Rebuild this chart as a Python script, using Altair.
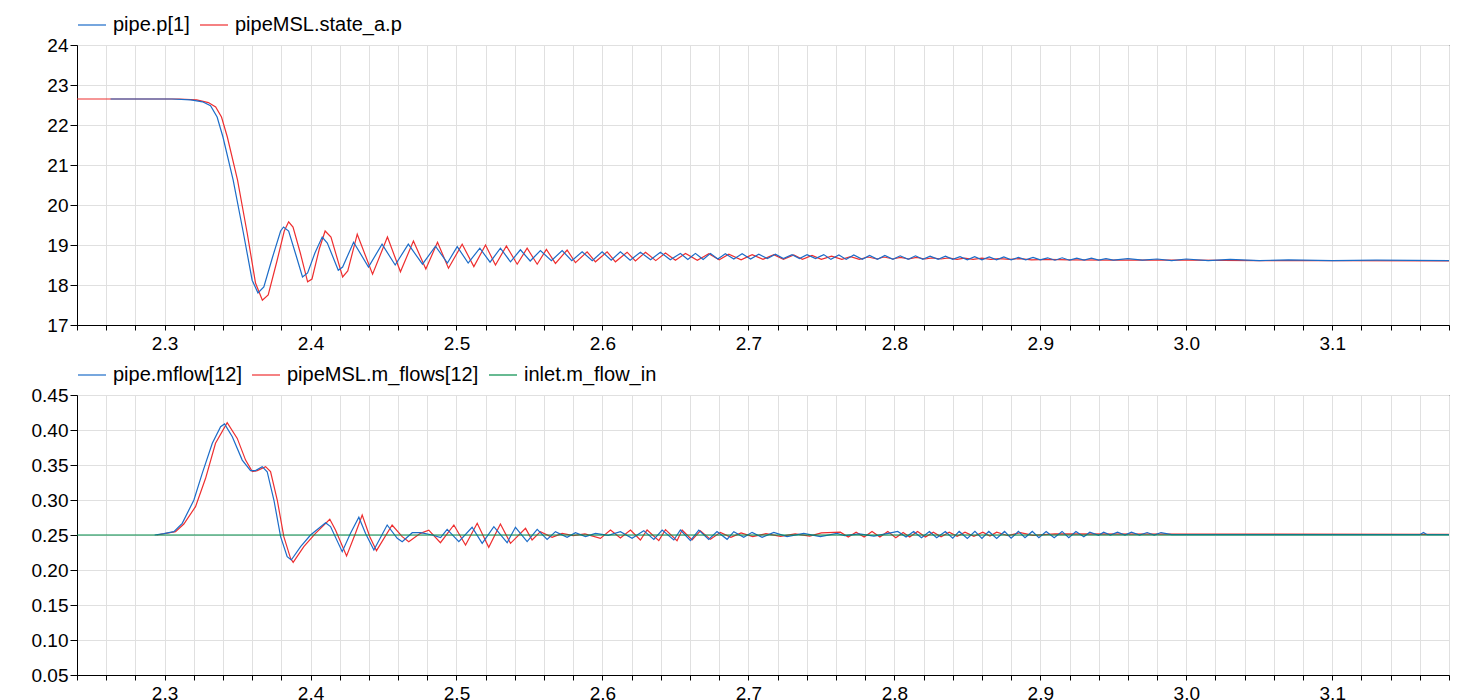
import altair as alt
import pandas as pd

# ---------------- top panel: pressure ----------------
TOP_NAMES = ["pipe.p[1]", "pipeMSL.state_a.p"]

P_BLUE_T = [2.263, 2.305, 2.318, 2.326, 2.3315, 2.336, 2.340, 2.347, 2.354, 2.360, 2.364, 2.368,
            2.374, 2.3795, 2.3815, 2.385, 2.390, 2.3945, 2.398, 2.403, 2.408, 2.4115, 2.419, 2.422,
            2.4295, 2.4397, 2.449, 2.458, 2.467, 2.4767, 2.4856, 2.4938, 2.5005, 2.508, 2.516, 2.523,
            2.5301, 2.537, 2.5438, 2.5505, 2.5575, 2.565, 2.5724, 2.579, 2.5861, 2.593, 2.5998, 2.606,
            2.6123, 2.619, 2.626, 2.633, 2.6397, 2.6465, 2.6534, 2.6585, 2.6637, 2.669, 2.674, 2.679,
            2.6842, 2.690, 2.6957, 2.7015, 2.7071, 2.713, 2.7185, 2.724, 2.7299, 2.735, 2.7402, 2.746,
            2.7516, 2.7565, 2.762, 2.767, 2.7722, 2.778, 2.783, 2.7885, 2.7935, 2.799, 2.804, 2.8095,
            2.8145, 2.8195, 2.8245, 2.830, 2.835, 2.840, 2.845, 2.850, 2.855, 2.860, 2.865, 2.870,
            2.875, 2.880, 2.885, 2.890, 2.895, 2.900, 2.905, 2.910, 2.915, 2.920, 2.925, 2.930,
            2.935, 2.940, 2.945, 2.950, 2.960, 2.970, 2.980, 2.990, 3.000, 3.015, 3.030, 3.050,
            3.070, 3.100, 3.130, 3.180]
P_BLUE_V = [22.65, 22.65, 22.63, 22.58, 22.48, 22.2, 21.7, 20.62, 19.3, 18.12, 17.8, 17.95,
            18.7, 19.35, 19.45, 19.35, 18.75, 18.2, 18.3, 18.8, 19.2, 19.05, 18.37, 18.45,
            19.07, 18.45, 19.02, 18.5, 19.02, 18.52, 18.97, 18.55, 18.96, 18.55, 18.92, 18.57,
            18.92, 18.58, 18.88, 18.6, 18.86, 18.61, 18.86, 18.61, 18.83, 18.61, 18.83, 18.62,
            18.83, 18.62, 18.82, 18.63, 18.82, 18.63, 18.79, 18.64, 18.79, 18.64, 18.79, 18.65,
            18.78, 18.65, 18.78, 18.65, 18.77, 18.66, 18.77, 18.66, 18.76, 18.66, 18.76, 18.66,
            18.76, 18.64, 18.75, 18.64, 18.75, 18.64, 18.74, 18.64, 18.74, 18.64, 18.73, 18.64,
            18.73, 18.64, 18.72, 18.64, 18.72, 18.64, 18.71, 18.63, 18.71, 18.63, 18.70, 18.63,
            18.70, 18.63, 18.69, 18.63, 18.69, 18.63, 18.68, 18.62, 18.68, 18.62, 18.67, 18.62,
            18.67, 18.62, 18.66, 18.62, 18.66, 18.62, 18.65, 18.61, 18.65, 18.61, 18.64, 18.61,
            18.63, 18.61, 18.62, 18.61]

P_RED_T = [2.240, 2.310, 2.322, 2.330, 2.335, 2.339, 2.343, 2.350, 2.3566, 2.3623, 2.367, 2.371,
           2.377, 2.382, 2.385, 2.388, 2.393, 2.398, 2.401, 2.406, 2.410, 2.414, 2.422, 2.4255,
           2.432, 2.4425, 2.4527, 2.4616, 2.4705, 2.479, 2.487, 2.4945, 2.5039, 2.5119, 2.5199, 2.5267,
           2.5342, 2.5416, 2.5484, 2.5553, 2.5616, 2.5678, 2.5758, 2.5815, 2.5895, 2.5952, 2.6032, 2.6089,
           2.6169, 2.6226, 2.6295, 2.6365, 2.6432, 2.650, 2.6569, 2.665, 2.6729, 2.680, 2.6866, 2.695,
           2.7026, 2.710, 2.7174, 2.724, 2.7311, 2.737, 2.7436, 2.750, 2.757, 2.764, 2.770, 2.776,
           2.782, 2.788, 2.793, 2.799, 2.804, 2.810, 2.815, 2.821, 2.826, 2.832, 2.837, 2.843,
           2.848, 2.854, 2.860, 2.866, 2.872, 2.879, 2.886, 2.894, 2.905, 2.920, 2.950, 3.000,
           3.050, 3.100, 3.180]
P_RED_V = [22.65, 22.65, 22.63, 22.56, 22.45, 22.2, 21.7, 20.62, 19.3, 18.05, 17.62, 17.75,
           18.6, 19.35, 19.58, 19.45, 18.8, 18.08, 18.15, 18.9, 19.35, 19.2, 18.2, 18.35,
           19.27, 18.27, 19.2, 18.33, 19.1, 18.4, 19.07, 18.42, 19.02, 18.46, 19.0, 18.5,
           18.975, 18.52, 18.92, 18.52, 18.89, 18.54, 18.875, 18.56, 18.83, 18.58, 18.83, 18.58,
           18.82, 18.6, 18.82, 18.61, 18.80, 18.62, 18.79, 18.62, 18.78, 18.63, 18.77, 18.63,
           18.76, 18.64, 18.76, 18.64, 18.75, 18.64, 18.74, 18.64, 18.72, 18.64, 18.71, 18.64,
           18.70, 18.65, 18.70, 18.65, 18.69, 18.65, 18.69, 18.65, 18.68, 18.65, 18.68, 18.64,
           18.67, 18.64, 18.67, 18.64, 18.66, 18.64, 18.66, 18.63, 18.64, 18.63, 18.62, 18.62,
           18.61, 18.61, 18.60]

# ---------------- bottom panel: mass flow ----------------
BOT_NAMES = ["pipe.mflow[12]", "pipeMSL.m_flows[12]", "inlet.m_flow_in"]

M_BLUE_T = [2.2932, 2.2995, 2.3064, 2.3121, 2.3201, 2.3258, 2.3327, 2.3384, 2.3411, 2.3464, 2.3532,
            2.3589, 2.3623, 2.3669, 2.3703, 2.3749, 2.3795, 2.3840, 2.3868, 2.3932, 2.4000, 2.4103,
            2.4137, 2.4217, 2.4274, 2.4331, 2.4377, 2.4434, 2.4525, 2.4594, 2.4628, 2.4697, 2.4754,
            2.4834, 2.4891, 2.4936, 2.5016, 2.5107, 2.5176, 2.5256, 2.5347, 2.5404, 2.5484, 2.5553,
            2.5621, 2.5678, 2.5758, 2.5815, 2.5884, 2.5952, 2.6040, 2.6123, 2.6203, 2.6283, 2.6352,
            2.6409, 2.6489, 2.6534, 2.6603, 2.6660, 2.6728, 2.6785, 2.6854, 2.6900, 2.6968, 2.7025,
            2.7094, 2.7174, 2.7265, 2.7379, 2.7493, 2.7607, 2.7660, 2.7760, 2.7860, 2.7950, 2.8023,
            2.8080, 2.8132, 2.8186, 2.8240, 2.8290, 2.8349, 2.8400, 2.8444, 2.8500, 2.8552, 2.8600,
            2.8647, 2.8701, 2.8755, 2.8800, 2.8850, 2.8895, 2.8945, 2.8990, 2.9040, 2.9095, 2.9149,
            2.9195, 2.9244, 2.9298, 2.9339, 2.9400, 2.9434, 2.9480, 2.9529, 2.9580, 2.9624, 2.9680,
            2.9732, 2.9780, 2.9827, 2.9900, 3.1600, 3.1625, 3.1650, 3.1800]
M_BLUE_V = [0.250, 0.252, 0.2548, 0.2667, 0.300, 0.338, 0.381, 0.4047, 0.4086, 0.3904, 0.357,
            0.3419, 0.342, 0.3476, 0.3404, 0.300, 0.2476, 0.219, 0.2143, 0.2333, 0.250, 0.2676,
            0.262, 0.2262, 0.2524, 0.2753, 0.252, 0.2286, 0.2643, 0.2452, 0.2405, 0.2533, 0.2533,
            0.250, 0.2462, 0.2581, 0.2405, 0.261, 0.2381, 0.2619, 0.239, 0.261, 0.2405, 0.2581,
            0.2438, 0.2548, 0.2467, 0.2533, 0.2476, 0.2524, 0.2495, 0.2548, 0.2452, 0.2562, 0.2438,
            0.2571, 0.2429, 0.2571, 0.2419, 0.2571, 0.2438, 0.2548, 0.2438, 0.2548, 0.2467, 0.2538,
            0.2467, 0.2538, 0.2476, 0.2524, 0.2476, 0.2524, 0.2490, 0.2515, 0.2485, 0.2520, 0.2551,
            0.2470, 0.2551, 0.2460, 0.2551, 0.2460, 0.2551, 0.2455, 0.2551, 0.2452, 0.2551, 0.2452,
            0.2551, 0.2452, 0.2551, 0.2455, 0.2551, 0.2460, 0.2551, 0.2460, 0.2551, 0.2460, 0.2551,
            0.2462, 0.2551, 0.2475, 0.2540, 0.2495, 0.2540, 0.2500, 0.2540, 0.2500, 0.2540, 0.2500,
            0.2535, 0.2500, 0.2535, 0.2505, 0.2505, 0.2535, 0.2505, 0.2505]

M_RED_T = [2.2946, 2.3075, 2.3132, 2.3212, 2.3281, 2.3349, 2.3429, 2.3498, 2.3555, 2.3601, 2.3635,
           2.3692, 2.3726, 2.3772, 2.3817, 2.3863, 2.3881, 2.3954, 2.4034, 2.4132, 2.4171, 2.4247,
           2.4308, 2.4354, 2.4406, 2.4452, 2.4559, 2.4628, 2.4673, 2.4753, 2.4810, 2.4890, 2.4982,
           2.5062, 2.5142, 2.5221, 2.5301, 2.5370, 2.5473, 2.5518, 2.5575, 2.5655, 2.5724, 2.5800,
           2.5880, 2.5986, 2.6055, 2.6123, 2.6192, 2.6260, 2.6306, 2.6386, 2.6432, 2.6511, 2.6546,
           2.6614, 2.6671, 2.6740, 2.6808, 2.6880, 2.6950, 2.7030, 2.7120, 2.7220, 2.7320, 2.7420,
           2.7500, 2.7630, 2.7684, 2.7738, 2.7793, 2.7847, 2.7901, 2.7955, 2.8010, 2.8060, 2.8105,
           2.8159, 2.8213, 2.8267, 2.8320, 2.8376, 2.8430, 2.8484, 2.8545, 2.8606, 2.8655, 2.8701,
           2.8780, 2.8864, 2.8950, 2.9100, 3.0000, 3.1800]
M_RED_V = [0.250, 0.2548, 0.2657, 0.2905, 0.331, 0.381, 0.4105, 0.388, 0.357, 0.3405, 0.342,
           0.3476, 0.3405, 0.300, 0.2476, 0.2167, 0.211, 0.2333, 0.2524, 0.2724, 0.2571, 0.220,
           0.2524, 0.2786, 0.2476, 0.2276, 0.2643, 0.2476, 0.2405, 0.2524, 0.257, 0.239, 0.2643,
           0.2357, 0.2667, 0.2324, 0.2657, 0.2381, 0.2595, 0.2429, 0.2548, 0.2467, 0.2524, 0.2490,
           0.2515, 0.2452, 0.2571, 0.2457, 0.2571, 0.2429, 0.2571, 0.2419, 0.2576, 0.2419, 0.2571,
           0.2429, 0.2560, 0.2438, 0.2538, 0.2467, 0.2530, 0.2476, 0.2520, 0.2480, 0.2515, 0.2485,
           0.2530, 0.2541, 0.2470, 0.2541, 0.2470, 0.2551, 0.2470, 0.2551, 0.2460, 0.2535, 0.2470,
           0.2551, 0.2470, 0.2541, 0.2475, 0.2541, 0.2480, 0.2541, 0.2480, 0.2541, 0.2485, 0.2541,
           0.2490, 0.2535, 0.2495, 0.2515, 0.2512, 0.2510]

M_GREEN_T = [2.24, 3.18]
M_GREEN_V = [0.25, 0.25]

COLORS_TOP = ["#1c6cc8", "#ee2e2f"]
COLORS_BOT = ["#1c6cc8", "#ee2e2f", "#008c48"]

X_DOMAIN = [2.24, 3.18]
X_TICKS = [round(2.24 + 0.02 * i, 2) for i in range(48)]
Y_TOP_TICKS = [17, 18, 19, 20, 21, 22, 23, 24]
Y_BOT_TICKS = [0.05, 0.10, 0.15, 0.20, 0.25, 0.30, 0.35, 0.40, 0.45]

FONT = "Liberation Sans"


def frame(t, v, name):
    return pd.DataFrame({"t": t, "v": v, "series": name})


top_df = {
    TOP_NAMES[0]: frame(P_BLUE_T, P_BLUE_V, TOP_NAMES[0]),
    TOP_NAMES[1]: frame(P_RED_T, P_RED_V, TOP_NAMES[1]),
}
bot_df = {
    BOT_NAMES[0]: frame(M_BLUE_T, M_BLUE_V, BOT_NAMES[0]),
    BOT_NAMES[1]: frame(M_RED_T, M_RED_V, BOT_NAMES[1]),
    BOT_NAMES[2]: frame(M_GREEN_T, M_GREEN_V, BOT_NAMES[2]),
}

x_axis = alt.Axis(values=X_TICKS, title=None, grid=True, tickSize=5, labelPadding=4,
                  labelOverlap=False, labelBound=False, labelFlush=False,
                  labelExpr="abs(datum.value*10 - round(datum.value*10)) < 0.001 ? format(datum.value, '.1f') : ''")


def panel(dfs, order, names, colors, ydomain, yticks, yfmt):
    legend = alt.Legend(title=None, orient="top", direction="horizontal", symbolType="stroke",
                        symbolSize=784, symbolStrokeWidth=1.2, labelFontSize=20, labelFont=FONT,
                        labelColor="black", labelOffset=6, columnPadding=7, offset=10, padding=0,
                        labelLimit=0)
    layers = []
    for name in order:
        layers.append(
            alt.Chart(dfs[name]).mark_line(strokeWidth=1.2, clip=True).encode(
                x=alt.X("t:Q", scale=alt.Scale(domain=X_DOMAIN, nice=False, zero=False), axis=x_axis),
                y=alt.Y("v:Q", scale=alt.Scale(domain=ydomain, nice=False, zero=False),
                        axis=alt.Axis(values=yticks, format=yfmt, title=None, tickSize=7,
                                      labelPadding=2, minExtent=63, maxExtent=63)),
                color=alt.Color("series:N", scale=alt.Scale(domain=names, range=colors), legend=legend),
            )
        )
    return alt.layer(*layers).properties(width=1372, height=280)


top = panel(top_df, [TOP_NAMES[1], TOP_NAMES[0]], TOP_NAMES, COLORS_TOP, [17, 24], Y_TOP_TICKS, "d")
bot = panel(bot_df, [BOT_NAMES[1], BOT_NAMES[0], BOT_NAMES[2]], BOT_NAMES, COLORS_BOT, [0.05, 0.45],
            Y_BOT_TICKS, ".2f")

chart = (
    alt.vconcat(top, bot, spacing=5)
    .resolve_scale(color="independent")
    .resolve_legend(color="independent")
    .configure(padding={"left": 5, "top": 1, "right": 5, "bottom": 5}, background="white")
    .configure_view(stroke="black", strokeWidth=1)
    .configure_axis(labelFont=FONT, labelFontSize=19, labelColor="black", domainColor="black",
                    tickColor="black", gridColor="#e0e0e0", gridWidth=1, domainWidth=1, tickWidth=1)
)

chart.save("out.html", embed_options={"renderer": "svg", "actions": False})
